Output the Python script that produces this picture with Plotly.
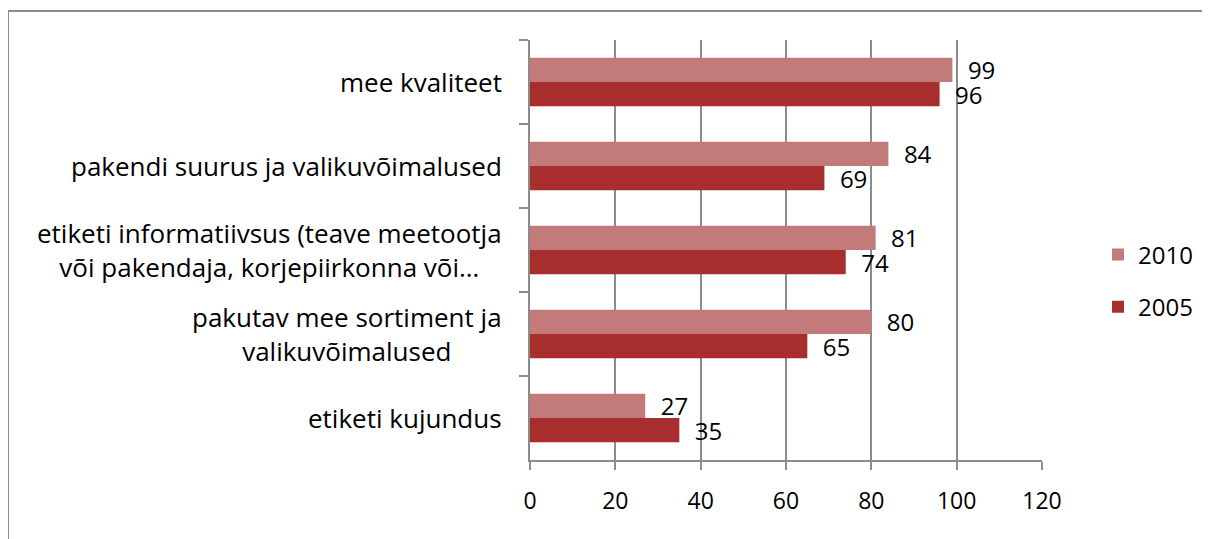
import plotly.graph_objects as go

categories = [
    "mee kvaliteet",
    "pakendi suurus ja valikuvõimalused",
    "etiketi informatiivsus (teave meetootja<br>või pakendaja, korjepiirkonna või…",
    "pakutav mee sortiment ja<br>valikuvõimalused",
    "etiketi kujundus",
]
series_names = ["2010", "2005"]
values_2010 = [99, 84, 81, 80, 27]
values_2005 = [96, 69, 74, 65, 35]
x_ticks = [0, 20, 40, 60, 80, 100, 120]

# page body adds an 8px offset
OFF = 8
W, H = 1210 - OFF, 539 - OFF
L, T = 530 - OFF, 40 - OFF
pw, ph = 512, 420
R, B = W - L - pw, H - T - ph

FONT = "Open Sans"
FS = 26
NFS = 24
GRID = "#8c8c8c"

fig = go.Figure()
colors = ["#c27a7a", "#a82d2d"]
for name, vals, col in zip(series_names, [values_2010, values_2005], colors):
    fig.add_trace(go.Bar(
        y=categories, x=vals, name=name, orientation="h",
        marker=dict(color=col, line=dict(width=0)),
        texttemplate="\u00a0\u00a0%{x}", textposition="outside",
        constraintext="none",
        textfont=dict(family=FONT, size=NFS, color="black"),
        cliponaxis=False, legendgroup=name,
    ))

for c in categories:
    fig.add_annotation(
        x=0, xref="paper", y=c, yref="y", text=c, showarrow=False,
        xanchor="right", yanchor="middle", align="center", xshift=-26,
        font=dict(family=FONT, size=FS, color="black"),
    )

# outer chart border
fig.add_shape(
    type="rect", xref="paper", yref="paper",
    x0=(0 - L) / pw, x1=(W + 10 - L) / pw,
    y0=-(H + 10 - T - ph) / ph, y1=(T + ph - 3) / ph,
    line=dict(color="#8c8c8c", width=2), fillcolor="rgba(0,0,0,0)",
)

fig.update_layout(
    width=W, height=H,
    margin=dict(l=L, r=R, t=T, b=B),
    paper_bgcolor="white", plot_bgcolor="white",
    barmode="group", bargap=0.42, bargroupgap=0,
    font=dict(family=FONT, size=FS, color="black"),
    showlegend=True,
    legend=dict(
        x=(1098 - OFF - L) / pw, xanchor="left",
        y=(T + ph - (281 - OFF)) / ph, yanchor="middle",
        font=dict(family=FONT, size=NFS),
        tracegroupgap=18, traceorder="grouped",
        bgcolor="rgba(0,0,0,0)",
    ),
    xaxis=dict(
        range=[0, 120], tickvals=x_ticks, ticktext=[str(v) for v in x_ticks],
        showgrid=True, gridcolor=GRID, gridwidth=2,
        showline=True, linecolor=GRID, linewidth=2,
        ticks="outside", ticklen=8, tickcolor=GRID, tickwidth=2,
        ticklabelstandoff=11, zeroline=False,
        tickfont=dict(family=FONT, size=23),
    ),
    yaxis=dict(
        autorange="reversed", showticklabels=False,
        showline=True, linecolor=GRID, linewidth=2,
        ticks="outside", ticklen=9, tickcolor=GRID, tickwidth=2,
        tickson="boundaries", showgrid=False,
    ),
)

fig.write_html("out.html")
